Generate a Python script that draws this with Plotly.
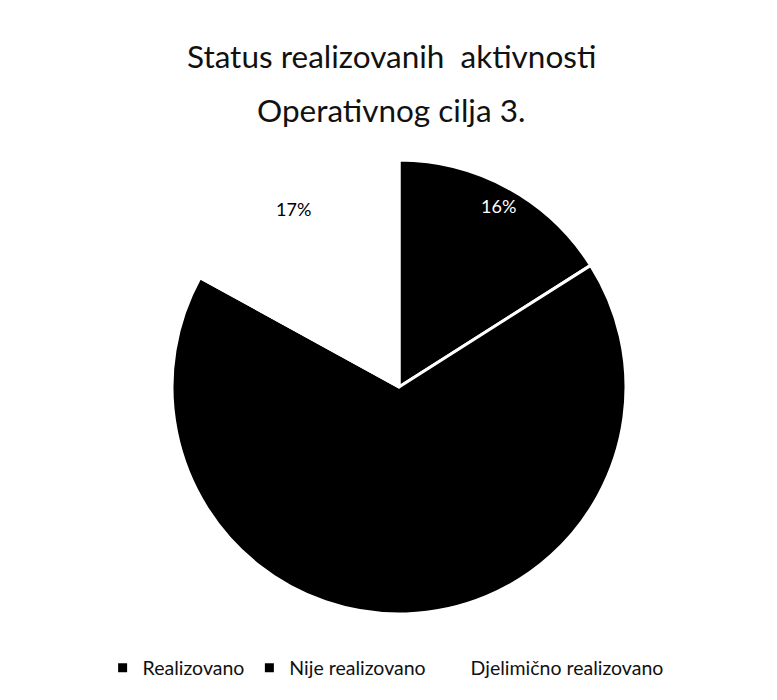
import math
import plotly.graph_objects as go

categories = ["Realizovano", "Nije realizovano", "Djelimično realizovano"]
values = [16, 67, 17]
slice_colors = ["#000000", "#000000", "#ffffff"]
label_colors = ["#ffffff", "#000000", "#000000"]
title_lines = ["Status realizovanih  aktivnosti", "Operativnog cilja 3."]

FONT = "Lato"
W, H = 777, 700
cx, cy, R = 391, 379, 227   # pie centre / radius in figure pixels
LABEL_R = 0.91              # data labels sit near the outer edge ("best fit")

fig = go.Figure(go.Pie(
    labels=categories,
    values=values,
    sort=False,
    direction="clockwise",
    rotation=0,
    marker=dict(colors=slice_colors, line=dict(color="#ffffff", width=3)),
    textinfo="none",
    domain=dict(x=[(cx - R) / W, (cx + R) / W], y=[(H - cy - R) / H, (H - cy + R) / H]),
    hoverinfo="label+percent",
))

# percentage labels placed at each slice's mid-angle, computed from the data
total = sum(values)
cum = 0
for v, col in zip(values, label_colors):
    theta = 2 * math.pi * (cum + v / 2) / total
    cum += v
    px = cx + LABEL_R * R * math.sin(theta)
    py = cy - LABEL_R * R * math.cos(theta)
    fig.add_annotation(
        text=f"{round(100 * v / total)}%", xref="paper", yref="paper",
        x=px / W, y=1 - py / H, xanchor="center", yanchor="middle",
        showarrow=False, font=dict(family=FONT, size=18, color=col),
    )

for i, line in enumerate(title_lines):
    fig.add_annotation(
        text=line, xref="paper", yref="paper",
        x=383 / W, y=1 - (48 + 54 * i) / H,
        xanchor="center", yanchor="middle", showarrow=False,
        font=dict(family=FONT, size=31.5, color="#111111"),
    )

fig.update_layout(
    width=W, height=H,
    margin=dict(l=0, r=0, t=0, b=0),
    paper_bgcolor="#ffffff",
    plot_bgcolor="#ffffff",
    showlegend=True,
    legend=dict(
        orientation="h", x=0.486, xanchor="center", y=40 / H, yanchor="middle",
        font=dict(family=FONT, size=19.5, color="#111111"),
        itemwidth=30,
    ),
)

fig.write_html("out.html")
